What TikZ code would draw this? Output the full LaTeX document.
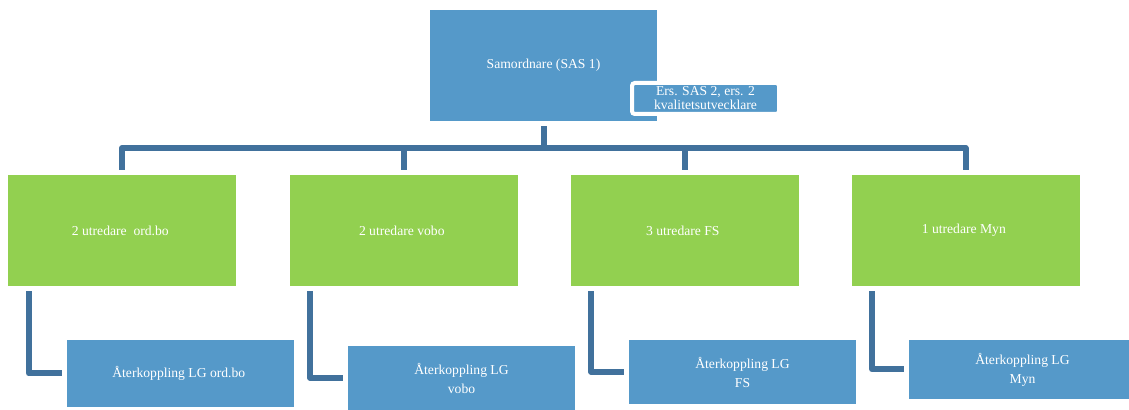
\documentclass[tikz,border=0pt]{standalone}
\usepackage{fontspec}
\setmainfont{Liberation Serif}
\definecolor{boxblue}{HTML}{5599C9}
\definecolor{boxgreen}{HTML}{92D050}
\definecolor{linkblue}{HTML}{41719C}
\tikzset{
  box/.style={rectangle, text=white, inner sep=0pt, align=center, font=\fontsize{9.7}{13.5}\selectfont},
  unit/.style={box, fill=boxgreen, minimum width=5.7cm, minimum height=2.775cm},
  feedback/.style={box, fill=boxblue, minimum width=5.675cm},
  link/.style={draw=linkblue, line width=0.15cm, line join=round}
}
\begin{document}
\begin{tikzpicture}
\useasboundingbox (0,0) rectangle (28.225,10.25); \clip (0,0) rectangle (28.225,10.25);
\node[box, fill=boxblue, minimum width=5.675cm, minimum height=2.775cm] (sam) at (13.5875,8.6125) {Samordnare (SAS 1)};
\node[box, fill=boxblue, draw=white, line width=0.1cm, rounded corners=2pt, minimum width=3.675cm, minimum height=0.775cm, font=\fontsize{9.7}{10}\selectfont] (ers) at (17.6375,7.7875) {Ers. SAS 2, ers. 2\\kvalitetsutvecklare};
\coordinate (bar) at (0,6.55);
\foreach \n/\x/\t in { 1/3.05/2 utredare \ ord.bo , 2/10.0875/2 utredare vobo , 3/17.1125/3 utredare FS , 4/24.1375/1 utredare Myn } { \node[unit] (u\n) at (\x,4.4875) {\t}; }
\foreach \n/\x/\y/\h/\t in { 1/4.5125/0.9125/1.675/Återkoppling LG ord.bo , 2/11.5375/0.8/1.6/Återkoppling LG\\vobo , 3/18.5625/0.95/1.6/Återkoppling LG\\FS , 4/25.5625/1.0125/1.475/Återkoppling LG\\Myn } { \node[feedback, minimum height=\h cm] (fb\n) at (\x,\y) {\t}; }
\draw[link, shorten <=0.125cm] (sam.south) -- (sam.south |- bar);
\draw[link] ([yshift=0.125cm]u1.north) |- (u4 |- bar) -- ([yshift=0.125cm]u4.north);
\foreach \n in {2,3} { \draw[link, shorten >=0.125cm] (u\n |- bar) -- (u\n.north); }
\foreach \n in {1,...,4} { \draw[link] ([xshift=0.525cm,yshift=-0.125cm]u\n.south west) |- ([xshift=-0.125cm]fb\n.west); }
\end{tikzpicture}
\end{document}
